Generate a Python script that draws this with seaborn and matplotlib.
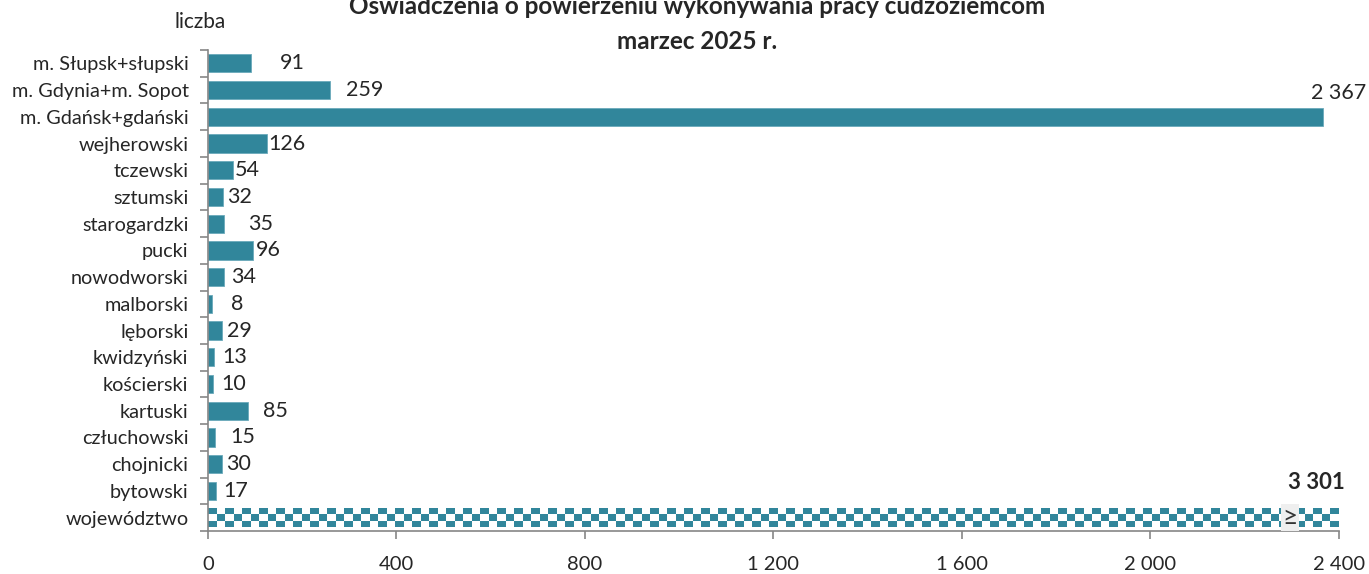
import numpy as np
import pandas as pd
import seaborn as sns
from matplotlib import pyplot as plt
from matplotlib.ticker import FuncFormatter, FixedLocator

# data
powiaty = ["m. Słupsk+słupski", "m. Gdynia+m. Sopot", "m. Gdańsk+gdański", "wejherowski",
           "tczewski", "sztumski", "starogardzki", "pucki", "nowodworski", "malborski",
           "lęborski", "kwidzyński", "kościerski", "kartuski", "człuchowski", "chojnicki",
           "bytowski", "województwo"]
liczba = [91, 259, 2367, 126, 54, 32, 35, 96, 34, 8, 29, 13, 10, 85, 15, 30, 17, 3301]
x_ticks = [0, 400, 800, 1200, 1600, 2000, 2400]

# label gaps (px) roughly as the labels sit in the original
label_gap = [29, 16, 0, 1, 1, 4, 24, 3, 7, 19, 5, 8, 9, 15, 15, 4, 7, 0]

TEAL = "#31869b"
GREY = "#868686"

sns.set_theme(style="white")
plt.rcParams["font.family"] = ["Lato", "DejaVu Sans"]

df = pd.DataFrame({"powiat": powiaty, "liczba": liczba})

fig = plt.figure(figsize=(13.69, 5.74), dpi=100)
ax = fig.add_axes([0.1519, 0.0749, 0.978 - 0.1519, 0.9129 - 0.0749])

sns.barplot(data=df, x="liczba", y="powiat", orient="h", color=TEAL, saturation=1,
            width=0.68, edgecolor="#6aaabb", linewidth=0.6, ax=ax)

ax.set_xlim(x_ticks[0], x_ticks[-1])

# checkerboard for the total bar (Excel "large checkerboard" fill)
bar = ax.patches[-1]
bar.set_facecolor("none")
bar.set_edgecolor("none")
y0, h = bar.get_y(), bar.get_height()
ncols = int(round(1131 / 8.5))
checker = (np.indices((3, ncols)).sum(axis=0) + 1) % 2
cmap = plt.matplotlib.colors.ListedColormap(["white", TEAL])
ax.imshow(checker, extent=(x_ticks[0], x_ticks[-1], y0 + h, y0), aspect="auto",
          interpolation="nearest", cmap=cmap, zorder=2)
ax.set_ylim(len(powiaty) - 0.5, -0.5)

# break marker
ax.text(x_ticks[-1] * 0.957, len(powiaty) - 1, "≥", ha="center", va="center",
        fontsize=19, color="#333333", zorder=4, rotation=0,
        bbox=dict(boxstyle="square,pad=0.05", fc="#efefef", ec="none"))

fmt = lambda v: f"{int(v):,}".replace(",", " ")

for i, (v, gap) in enumerate(zip(liczba, label_gap)):
    if i == len(liczba) - 1:
        ax.annotate(fmt(v), xy=(x_ticks[-1], i), xytext=(-16, 25), textcoords="offset points",
                    ha="center", va="center", fontsize=16, fontweight="bold",
                    annotation_clip=False)
    elif v > 2000:
        ax.annotate(fmt(v), xy=(v, i), xytext=(31, 17), textcoords="offset points",
                    ha="right", va="center", fontsize=15.5, annotation_clip=False)
    else:
        ax.annotate(fmt(v), xy=(v, i), xytext=(gap * 0.72, 0), textcoords="offset points",
                    ha="left", va="center", fontsize=15.5)

# axes styling
for s in ["top", "right"]:
    ax.spines[s].set_visible(False)
for s in ["left", "bottom"]:
    ax.spines[s].set_color(GREY)
    ax.spines[s].set_linewidth(1.2)

ax.xaxis.set_major_locator(FixedLocator(x_ticks))
ax.xaxis.set_major_formatter(FuncFormatter(lambda v, p: fmt(v)))
ax.tick_params(axis="x", which="major", direction="out", length=6, width=1.2, color=GREY,
               labelsize=14.5, pad=12, bottom=True)
ax.yaxis.set_minor_locator(FixedLocator(np.arange(-0.5, len(powiaty), 1)))
ax.tick_params(axis="y", which="major", length=0, labelsize=14.3, pad=14)
ax.tick_params(axis="y", which="minor", direction="out", length=6, width=1.2, color=GREY, left=True)
ax.set_xlabel("")
ax.set_ylabel("")

fig.text(0.146, 0.962, "liczba", ha="center", va="center", fontsize=15)
fig.text(0.509, 0.988, "Oświadczenia o powierzeniu wykonywania pracy cudzoziemcom",
         ha="center", va="center", fontsize=17.5, fontweight="bold")
fig.text(0.509, 0.927, "marzec 2025 r.", ha="center", va="center", fontsize=17.5,
         fontweight="bold")

fig.savefig("out.png", dpi=100)
